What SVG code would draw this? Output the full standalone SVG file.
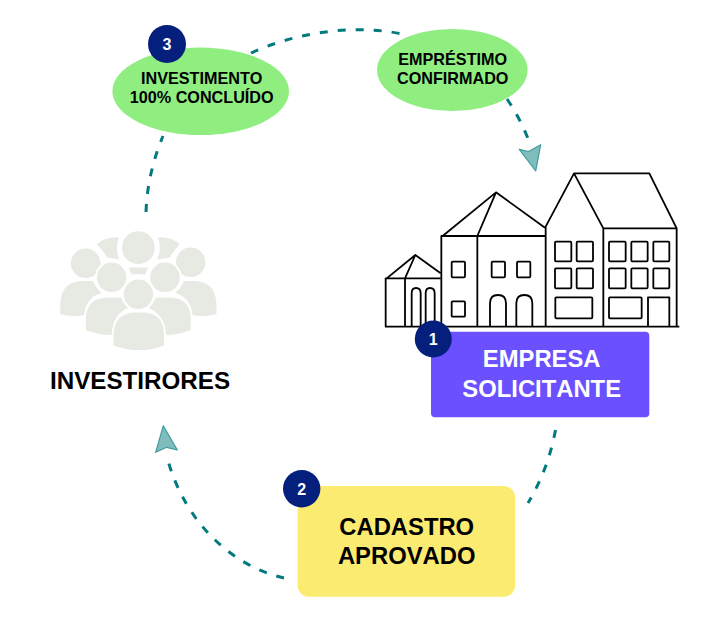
<svg xmlns="http://www.w3.org/2000/svg" width="728" height="623" viewBox="0 0 728 623">
<style>
text{font-family:"Liberation Sans",Arial,sans-serif;font-weight:bold;text-anchor:middle;fill:#000;font-kerning:none}
.big{font-size:23.8px}
.mid{font-size:16.2px}
.num{font-size:16px;fill:#fff}
.white{fill:#fff}
.badge{fill:#04207c}
.dash{fill:none;stroke:#007a7d;stroke-width:3;stroke-dasharray:8 10}
.head{fill:#7fbcbc;stroke:#3f9c9c;stroke-width:1.2;stroke-linejoin:round}
.line{fill:none;stroke:#000;stroke-width:5.4;stroke-linejoin:round}
.line rect{rx:3px}
.p{fill:#e6eae3;stroke:#fff;stroke-width:5.5}
.ell{fill:#90ee80}
</style>
<rect width="728" height="623" fill="#fff"/>
<g id="connectors">
<path class="dash" d="M146,212C147,185 153,160 163,136"/>
<path class="dash" d="M251,53C290,35 350,22 407,35"/>
<path class="dash" d="M507,99Q520,118 529,141"/>
<path class="dash" d="M555.5,430Q548,470 528,503"/>
<path class="dash" d="M284,578C235,567 185,525 167,457"/>
<polygon class="head" points="535.7,171 519.3,149.3 528.5,151.5 540.7,144.7"/>
<polygon class="head" points="163.3,425.7 155.7,452.3 166.7,447.3 177.3,450"/>
</g>
<g id="investidores">
<g transform="translate(40 200) scale(.33333)">
<path class="p" d="M167,133Q195,105 240,110Q225,145 243,182L200,175Q185,150 167,133Z"/>
<path class="p" d="M423,133Q395,105 350,110Q365,145 347,182L390,175Q405,150 423,133Z"/>
<path class="p" d="M262,200H328L316,228Q295,222 274,228Z"/>
<circle class="p" cx="295" cy="143" r="52"/>
<path class="p" d="M58,345V310Q62,242 125,240H160Q170,265 190,280Q140,290 135,348Q95,355 58,345Z"/>
<path class="p" d="M532,345V310Q528,242 465,240H430Q420,265 400,280Q450,290 455,348Q495,355 532,345Z"/>
<circle class="p" cx="137" cy="190" r="47"/>
<circle class="p" cx="452" cy="187" r="47"/>
<path class="p" d="M135,392V350Q140,292 200,290H245Q255,315 270,325Q220,340 218,408Q170,408 135,392Z"/>
<path class="p" d="M455,392V350Q450,292 390,290H345Q335,315 320,325Q370,340 375,408Q420,408 455,392Z"/>
<circle class="p" cx="215" cy="232" r="47"/>
<circle class="p" cx="375" cy="232" r="47"/>
<path class="p" d="M218,438V400Q222,335 290,335H305Q372,335 375,400V438Q295,468 218,438Z"/>
<circle class="p" cx="295" cy="283" r="47"/>
</g>
<text class="big" x="140" y="388.5" style="font-size:24.2px">INVESTIRORES</text>
</g>
<g id="predios">
<g class="line" transform="translate(370 160) scale(.33333)">
<path d="M45,500H928"/>
<path d="M47,500V355H212M105,500V355L136,285M50,355L136,285L212,340"/>
<path d="M214,500V228H525M322,500V228L378,97M218,228L378,97L525,203"/>
<path d="M527,500V200L612,40H838L920,205V500M612,40L700,205V500M700,205H920"/>
<path d="M125,500V400Q125,384 138,384Q152,384 152,400V500M167,500V400Q167,384 180,384Q194,384 194,400V500"/>
<path d="M360,500V430Q360,405 384,405Q408,405 408,430V500M439,500V430Q439,405 463,405Q487,405 487,430V500"/>
<rect x="245" y="305" width="40" height="47"/><rect x="245" y="424" width="40" height="46"/>
<rect x="365" y="305" width="40" height="47"/><rect x="441" y="305" width="40" height="47"/>
<rect x="555" y="245" width="49" height="59"/><rect x="620" y="245" width="49" height="59"/>
<rect x="555" y="325" width="49" height="60"/><rect x="620" y="325" width="49" height="60"/>
<rect x="556" y="412" width="111" height="63"/>
<rect x="717" y="245" width="50" height="59"/><rect x="784" y="245" width="49" height="59"/><rect x="850" y="245" width="48" height="59"/>
<rect x="717" y="325" width="50" height="60"/><rect x="784" y="325" width="49" height="60"/><rect x="850" y="325" width="48" height="60"/>
<rect x="717" y="412" width="98" height="63"/>
<path d="M834,500V412H898V500"/>
</g>
</g>
<g id="empresa">
<rect x="431" y="331.7" width="218.3" height="85.6" rx="4" fill="#6a50ff"/>
<circle class="badge" cx="433.3" cy="339" r="18.5"/>
<text class="num" x="433.3" y="345">1</text>
<text class="big white" x="541.7" y="367">EMPRESA</text>
<text class="big white" x="541.7" y="396.7">SOLICITANTE</text>
</g>
<g id="cadastro">
<rect x="297.7" y="486" width="217.3" height="110.7" rx="11" fill="#fbeb70"/>
<circle class="badge" cx="301.7" cy="488.7" r="18.7"/>
<text class="num" x="301.7" y="494.5">2</text>
<text class="big" x="406.7" y="535">CADASTRO</text>
<text class="big" x="406.7" y="564">APROVADO</text>
</g>
<g id="investimento">
<ellipse class="ell" cx="200.7" cy="91.3" rx="88.3" ry="43.7"/>
<circle class="badge" cx="167" cy="44" r="19"/>
<text class="num" x="167" y="49.7">3</text>
<text class="mid" x="201.7" y="84">INVESTIMENTO</text>
<text class="mid" x="201.7" y="103">100% CONCLUÍDO</text>
</g>
<g id="emprestimo">
<ellipse class="ell" cx="452.3" cy="70" rx="75.3" ry="41"/>
<text class="mid" x="452.7" y="65">EMPRÉSTIMO</text>
<text class="mid" x="452.7" y="84">CONFIRMADO</text>
</g>
</svg>
